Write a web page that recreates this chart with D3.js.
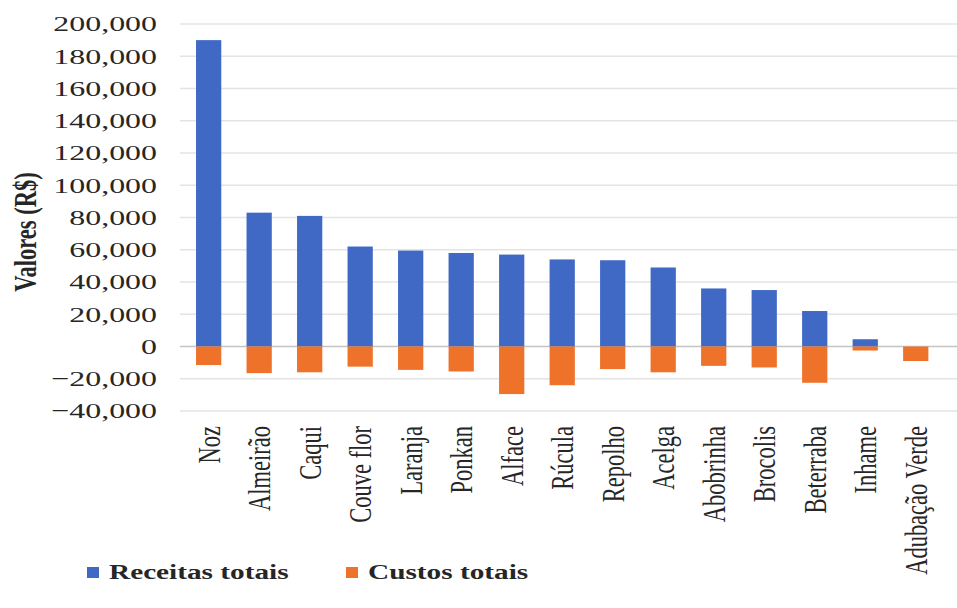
<!DOCTYPE html>
<html>
<head>
<meta charset="utf-8">
<script src="https://cdn.jsdelivr.net/npm/d3@7/dist/d3.min.js"></script>
<style>
  html, body { margin: 0; padding: 0; background: #fff; }
  svg { display: block; }
  text { font-family: "Liberation Serif", "Times New Roman", serif; fill: #262626; }
</style>
</head>
<body>
<svg id="chart" width="957" height="608"></svg>
<script>
// Receitas e custos totais por cultura (R$)
const categories = ["Noz", "Almeirão", "Caqui", "Couve flor", "Laranja", "Ponkan", "Alface",
  "Rúcula", "Repolho", "Acelga", "Abobrinha", "Brocolis", "Beterraba", "Inhame", "Adubação Verde"];
const receitas = [190000, 83000, 81000, 62000, 59500, 58000, 57000, 54000, 53500, 49000, 36000, 35000, 22000, 4500, 0];
const custos = [-11500, -16500, -16000, -12500, -14500, -15500, -29500, -24000, -14000, -16000, -12000, -13000, -22500, -2500, -9000];
const yTicks = [-40000, -20000, 0, 20000, 40000, 60000, 80000, 100000, 120000, 140000, 160000, 180000, 200000];
const seriesNames = ["Receitas totais", "Custos totais"];

const BLUE = "#4069c6";
const ORANGE = "#ee7229";
const SX = 1.45; // horizontal text stretch

const svg = d3.select("#chart");

const x = d3.scaleBand()
  .domain(categories)
  .range([183.4, 941])
  .paddingInner(0.5)
  .paddingOuter(0.25);

const y = d3.scaleLinear()
  .domain([-40000, 200000])
  .range([411, 24]);

const fmt = d3.format(",");

// gridlines
svg.append("g")
  .selectAll("line")
  .data(yTicks.filter(t => t !== 0))
  .join("line")
  .attr("x1", 180).attr("x2", 957)
  .attr("y1", d => y(d)).attr("y2", d => y(d))
  .attr("stroke", "#e4e4e4")
  .attr("stroke-width", 1.3);

// zero axis line
svg.append("line")
  .attr("x1", 180).attr("x2", 957)
  .attr("y1", y(0)).attr("y2", y(0))
  .attr("stroke", "#c4c4c4")
  .attr("stroke-width", 1.5);

// y tick labels
svg.append("g")
  .selectAll("text")
  .data(yTicks)
  .join("text")
  .attr("transform", d => `translate(157,${y(d)}) scale(${SX},1)`)
  .attr("text-anchor", "end")
  .attr("dy", "0.34em")
  .attr("font-size", 22)
  .text(d => fmt(d));

// y axis title
svg.append("text")
  .attr("transform", `translate(25,232) scale(${SX},1) rotate(-90)`)
  .attr("text-anchor", "middle")
  .attr("dy", "0.35em")
  .attr("font-size", 22.5)
  .attr("font-weight", "bold")
  .text("Valores (R$)");

// receitas bars
svg.append("g")
  .selectAll("rect")
  .data(categories.map((c, i) => ({ c, v: receitas[i] })))
  .join("rect")
  .attr("x", d => x(d.c))
  .attr("width", x.bandwidth())
  .attr("y", d => y(Math.max(0, d.v)))
  .attr("height", d => Math.abs(y(d.v) - y(0)))
  .attr("fill", BLUE);

// custos bars
svg.append("g")
  .selectAll("rect")
  .data(categories.map((c, i) => ({ c, v: custos[i] })))
  .join("rect")
  .attr("x", d => x(d.c))
  .attr("width", x.bandwidth())
  .attr("y", d => y(Math.max(0, d.v)))
  .attr("height", d => Math.abs(y(d.v) - y(0)))
  .attr("fill", ORANGE);

// category labels
svg.append("g")
  .selectAll("text")
  .data(categories)
  .join("text")
  .attr("transform", d => `translate(${x(d) + x.bandwidth() / 2},426) scale(${SX},1) rotate(-90)`)
  .attr("text-anchor", "end")
  .attr("dy", "0.34em")
  .attr("font-size", 22.5)
  .text(d => d);

// legend
const legendX = [87, 346];
const colors = [BLUE, ORANGE];
const lg = svg.append("g");
seriesNames.forEach((name, i) => {
  lg.append("rect")
    .attr("x", legendX[i]).attr("y", 567)
    .attr("width", 12).attr("height", 11)
    .attr("fill", colors[i]);
  lg.append("text")
    .attr("transform", `translate(${legendX[i] + 22},572) scale(${SX},1)`)
    .attr("dy", "0.35em")
    .attr("font-size", 20.2)
    .attr("font-weight", "bold")
    .text(name);
});
</script>
</body>
</html>
